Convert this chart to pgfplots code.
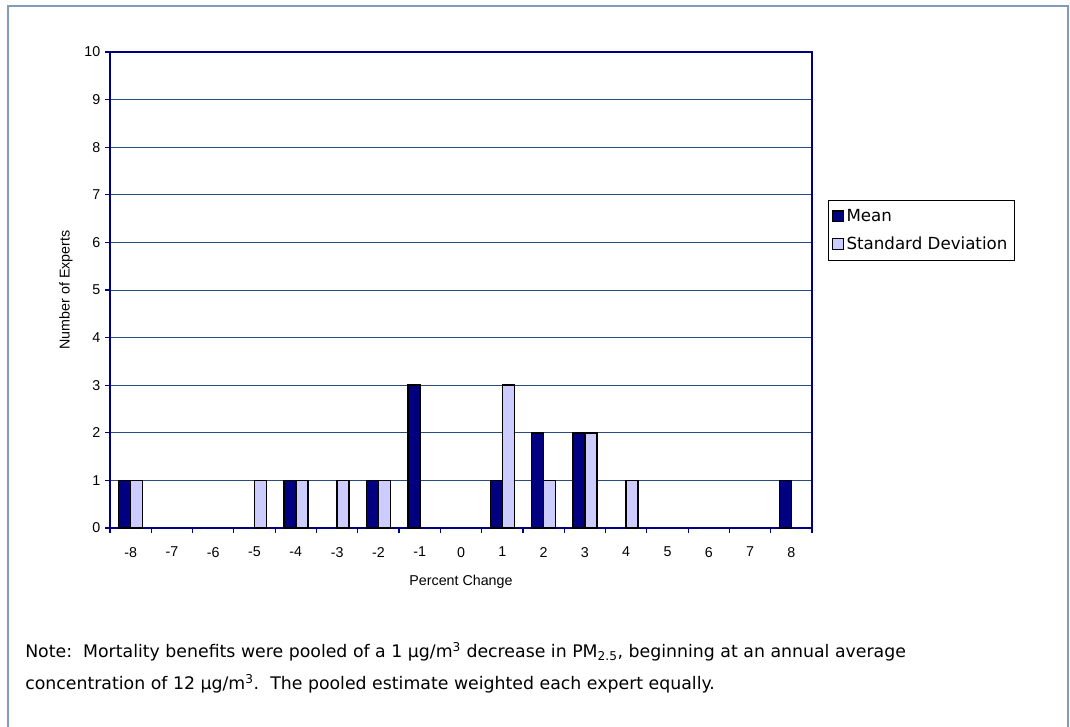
\documentclass[border=0pt]{standalone}
\usepackage{pgfplots}
\pgfplotsset{compat=1.18}
\usepackage{fontspec}
\setmainfont{Liberation Sans}
\newfontfamily\notefont{DejaVu Sans}

\definecolor{meanblue}{HTML}{000080}
\definecolor{sdlav}{HTML}{CCCCFF}
\definecolor{gridblue}{HTML}{2B4C7E}
\definecolor{framegray}{HTML}{7F9DB9}

% category index: 0 -> -8, ..., 16 -> 8
\pgfplotstableread{
x y
0 1
4 1
6 1
7 3
9 1
10 2
11 2
16 1
}\meandata
\pgfplotstableread{
x y
0 1
3 1
4 1
5 1
6 1
9 3
10 1
11 2
12 1
}\sddata

\begin{document}
\begin{tikzpicture}[x=0.75pt,y=0.75pt]
\useasboundingbox (0,0) rectangle (1070,726);
\draw[framegray, line width=2.2pt] (8,-1) -- (8,720) -- (1068,720) -- (1068,-1);

\begin{axis}[
  at={(110pt*0.75,198pt*0.75)}, anchor=south west,
  scale only axis,
  width=526.5pt, height=357pt,
  ybar=0pt, bar width=9pt,
  xmin=-0.5, xmax=16.5, ymin=0, ymax=10,
  xtick={0,...,16},
  xticklabels={-8,-7,-6,-5,-4,-3,-2,-1,0,1,2,3,4,5,6,7,8},
  minor xtick={-0.5,0.5,...,16.5},
  major x tick style={draw=none},
  ytick={0,...,10},
  tick align=outside,
  tick pos=left,
  major tick length=3.75pt,
  minor tick length=3.75pt,
  tick style={meanblue, line width=0.9pt},
  /pgf/number format/assume math mode=true,
  xticklabel style={yshift=-7pt},
  ymajorgrids=true,
  grid style={gridblue, line width=0.75pt},
  axis line style={meanblue, line width=1.6pt},
  tick label style={font=\fontsize{10.7}{12}\selectfont},
  label style={font=\fontsize{10.7}{12}\selectfont},
  xlabel={Percent Change},
  ylabel={Number of Experts},
  xlabel style={yshift=-7pt},
  ylabel style={yshift=2pt},
  legend style={at={(1.0228,0.689)}, anchor=north west,
    draw=black, line width=0.6pt, inner xsep=3pt, inner ysep=4.5pt,
    font=\notefont\fontsize{12.5}{14}\selectfont,
    row sep=6pt, cells={anchor=west}},
  legend image code/.code={\draw[#1, line width=0.8pt] (0pt,-3.9pt) rectangle (7.8pt,3.9pt);},
]
\addplot[fill=meanblue, draw=black, line width=1.2pt] table[x=x,y=y] {\meandata};
\addplot[fill=sdlav, draw=black, line width=1.2pt] table[x=x,y=y] {\sddata};
\legend{Mean, Standard Deviation}
\end{axis}

\node[anchor=base west, inner sep=0pt, font=\notefont\fontsize{13}{15}\selectfont] at (25,69)
  {Note:\ \ Mortality benefits were pooled of a 1 µg/m\textsuperscript{3} decrease in PM\textsubscript{2.5}, beginning at an annual average};
\node[anchor=base west, inner sep=0pt, font=\notefont\fontsize{13}{15}\selectfont] at (25,37)
  {concentration of 12 µg/m\textsuperscript{3}.\ \ The pooled estimate weighted each expert equally.};
\end{tikzpicture}
\end{document}
